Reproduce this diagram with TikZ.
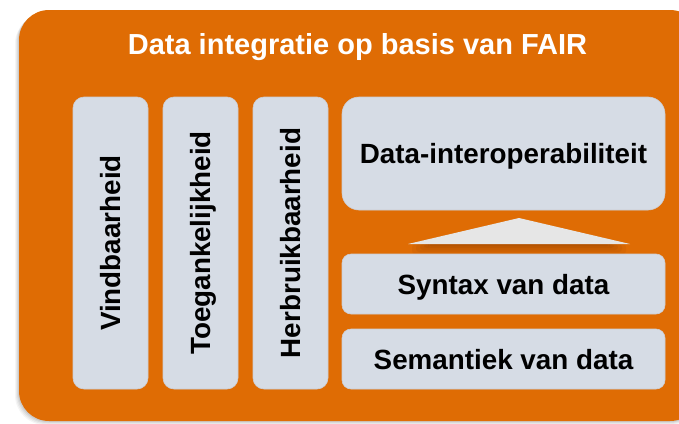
\documentclass[tikz,border=0pt]{standalone}
\usepackage{fontspec}
\setmainfont{Liberation Sans}
\definecolor{fairorange}{RGB}{223,108,4}
\definecolor{boxfill}{RGB}{214,220,229}
\definecolor{boxline}{RGB}{205,205,210}
\definecolor{trifill}{RGB}{230,230,230}
\definecolor{shadowbrown}{RGB}{120,50,0}
\begin{document}
\begin{tikzpicture}[x=1pt,y=-1pt,
  panel/.style={draw=boxline, line width=0.6pt, fill=boxfill},
  lbl/.style={font=\bfseries\fontsize{27.8}{30}\selectfont, text=black, inner sep=0pt, text depth=0pt},
]
\useasboundingbox (0,0) rectangle (679,423);
% soft shadow of the orange panel
\foreach \d/\o in {4/0.04,3/0.05,2/0.06,1/0.07}{
  \fill[black, opacity=\o, rounded corners=30pt] (19-\d,10+\d) rectangle (700,421+\d);
}
\fill[fairorange, rounded corners=30pt] (19,10) rectangle (700,421);
% title
\node[font=\bfseries\fontsize{29}{32}\selectfont, text=white, anchor=base, inner sep=0pt] (title) at (357.5,54) {Data integratie op basis van FAIR};
% pillars
\draw[panel, rounded corners=11pt] (73,97) rectangle (148,389);
\draw[panel, rounded corners=11pt] (163,97) rectangle (238,389);
\draw[panel, rounded corners=11pt] (253,97) rectangle (328,389);
\node[lbl, rotate=90] (vind) at (110.5,243) {Vindbaarheid};
\node[lbl, rotate=90] (toeg) at (200.5,243) {Toegankelijkheid};
\node[lbl, rotate=90] (herb) at (290.5,243) {Herbruikbaarheid};
% right stack
\draw[panel, rounded corners=17pt] (342,97) rectangle (665,210);
\node[lbl] (inter) at (503.5,153.5) {Data-interoperabiliteit};
% triangle shadow
\foreach \i/\o in {0/0.07,1/0.08,2/0.09,3/0.10,4/0.12}{
  \fill[shadowbrown, opacity=\o, rounded corners=3pt] (412+4*\i,244) rectangle (626-4*\i,254-2*\i);
}
\fill[trifill] (408,244) -- (519,218) -- (630,244) -- cycle;
\draw[panel, rounded corners=9pt] (342,254) rectangle (665,314);
\node[lbl] (syn) at (503.5,284) {Syntax van data};
\draw[panel, rounded corners=9pt] (342,329) rectangle (665,389);
\node[lbl] (sem) at (503.5,359) {Semantiek van data};
\end{tikzpicture}
\end{document}
